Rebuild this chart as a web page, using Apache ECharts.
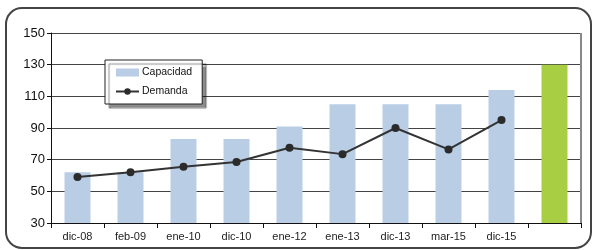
<!DOCTYPE html>
<html>
<head>
<meta charset="utf-8">
<script src="https://cdn.jsdelivr.net/npm/echarts@6/dist/echarts.min.js"></script>
<style>
  html, body { margin: 0; padding: 0; background: #fff; }
  #main { width: 595px; height: 250px; }
</style>
</head>
<body>
<div id="main"></div>
<script>
  var categories = ['dic-08', 'feb-09', 'ene-10', 'dic-10', 'ene-12', 'ene-13', 'dic-13', 'mar-15', 'dic-15', ''];
  var capacidad = [62, 62, 83, 83, 91, 105, 105, 105, 114, 130];
  var demanda = [59, 62, 65.5, 68.5, 77.5, 73.5, 90, 76.5, 95, null];
  var yTicks = [30, 50, 70, 90, 110, 130, 150];

  var chart = echarts.init(document.getElementById('main'));
  chart.setOption({
    animation: false,
    textStyle: { fontFamily: 'Liberation Sans, Arial, sans-serif' },
    graphic: [{
      type: 'rect',
      shape: { x: 6, y: 8, width: 585, height: 240, r: 16 },
      style: { fill: 'none', stroke: '#444', lineWidth: 2 },
      z: 0
    }, {
      // right border of the plot area
      type: 'line',
      shape: { x1: 581, y1: 33, x2: 581, y2: 223 },
      style: { stroke: '#888', lineWidth: 2 },
      z: 1
    }],
    grid: { left: 51, right: 14, top: 33, bottom: 27 },
    legend: {
      orient: 'vertical',
      left: 105, top: 60,
      padding: [7, 10, 7, 10],
      itemGap: 8,
      itemWidth: 23, itemHeight: 8,
      backgroundColor: '#fff',
      borderColor: '#222', borderWidth: 1,
      shadowColor: 'rgba(0,0,0,0.45)', shadowOffsetX: 4, shadowOffsetY: 4, shadowBlur: 1,
      textStyle: { fontSize: 10.5, color: '#111', padding: [0, 0, 0, -2] },
      data: [
        { name: 'Capacidad', icon: 'rect', itemStyle: { color: '#b9cde5' } },
        { name: 'Demanda' }
      ]
    },
    xAxis: {
      type: 'category',
      data: categories,
      boundaryGap: true,
      axisLine: { lineStyle: { color: '#111', width: 1 } },
      axisTick: { show: true, length: 5, lineStyle: { color: '#111' } },
      axisLabel: { fontSize: 11, color: '#222', margin: 8 }
    },
    yAxis: {
      type: 'value',
      min: yTicks[0], max: yTicks[yTicks.length - 1], interval: 20,
      axisLine: { show: true, lineStyle: { color: '#111' } },
      axisTick: { show: true, length: 4, lineStyle: { color: '#111' } },
      axisLabel: { fontSize: 13, color: '#111', margin: 6 },
      splitLine: { show: true, lineStyle: { color: '#444', width: 1 } }
    },
    series: [{
      name: 'Capacidad',
      type: 'bar',
      barWidth: '49%',
      data: capacidad.map(function (v, i) {
        return i === capacidad.length - 1
          ? { value: v, itemStyle: { color: '#a8ce43' } }
          : v;
      }),
      itemStyle: { color: '#b9cde5' },
      z: 2
    }, {
      name: 'Demanda',
      type: 'line',
      data: demanda,
      symbol: 'circle',
      symbolSize: 8,
      itemStyle: { color: '#2b2b2b' },
      lineStyle: { color: '#333', width: 2 },
      z: 3
    }]
  });
</script>
</body>
</html>
